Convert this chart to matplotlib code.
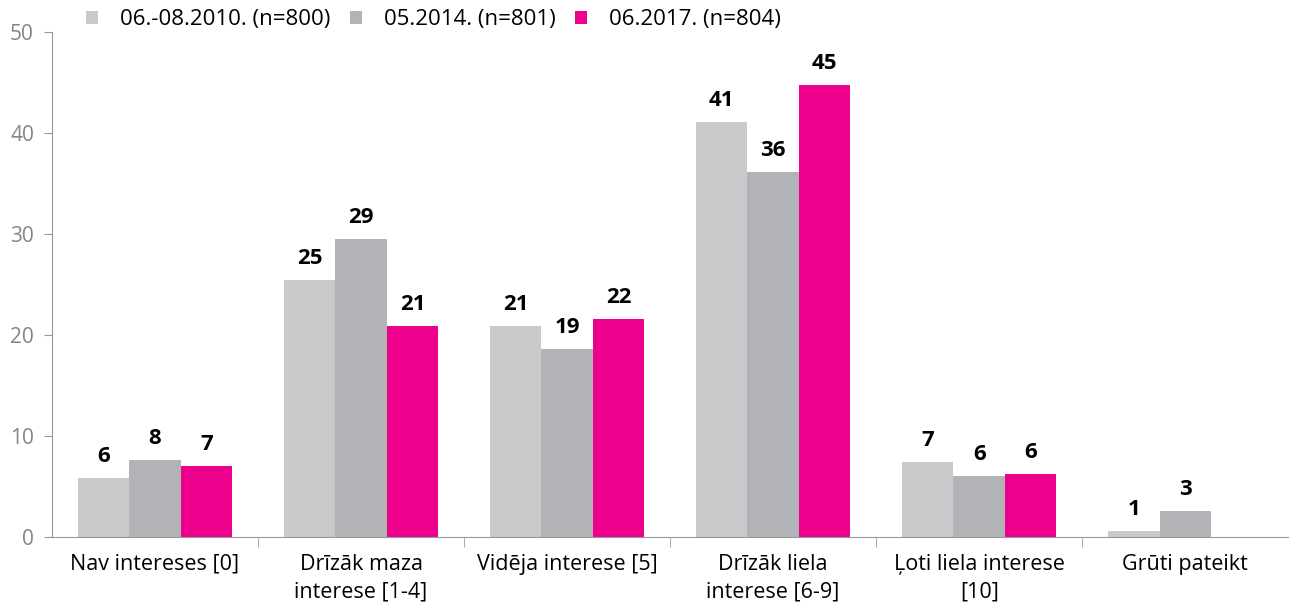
import matplotlib.pyplot as plt
import numpy as np

plt.rcParams['font.family'] = ['Open Sans', 'DejaVu Sans']

categories = ['Nav intereses [0]', 'Drīzāk maza\ninterese [1-4]', 'Vidēja interese [5]',
              'Drīzāk liela\ninterese [6-9]', 'Ļoti liela interese\n[10]', 'Grūti pateikt']
series_names = ['06.-08.2010. (n=800)', '05.2014. (n=801)', '06.2017. (n=804)']
v2010 = [5.8, 25.4, 20.9, 41.1, 7.4, 0.6]
v2014 = [7.6, 29.5, 18.6, 36.1, 6.0, 2.6]
v2017 = [7.0, 20.9, 21.6, 44.7, 6.2, None]
labels2010 = ['6', '25', '21', '41', '7', '1']
labels2014 = ['8', '29', '19', '36', '6', '3']
labels2017 = ['7', '21', '22', '45', '6', '']
colors = ['#C8C9CB', '#B1B3B6', '#EC008C']

fig = plt.figure(figsize=(13, 6.1), dpi=100)
ax = fig.add_axes([0.04, 0.1197, 0.951, 0.828])

x = np.arange(len(categories))
w = 0.25
all_vals = [v2010, v2014, v2017]
all_labels = [labels2010, labels2014, labels2017]
for i, (vals, labs) in enumerate(zip(all_vals, all_labels)):
    xs = [xx + (i - 1) * w for xx, v in zip(x, vals) if v is not None]
    ys = [v for v in vals if v is not None]
    ls = [l for l, v in zip(labs, vals) if v is not None]
    ax.bar(xs, ys, width=w, color=colors[i], label=series_names[i])
    for xx, yy, l in zip(xs, ys, ls):
        ax.annotate(l, xy=(xx, yy), xytext=(0, 8), textcoords='offset points',
                    ha='center', va='bottom', fontsize=16, fontweight='bold')

ax.set_xlim(-0.5, len(categories) - 0.5)
ax.set_ylim(0, 50)
ax.set_yticks([0, 10, 20, 30, 40, 50])
ax.set_xticks(x)
ax.set_xticklabels(categories, fontsize=15.5, linespacing=1.4)
ax.set_xticks(np.arange(0.5, len(categories) - 0.5), minor=True)
ax.tick_params(axis='x', which='major', length=0, pad=12)
ax.tick_params(axis='x', which='minor', length=7, color='#999999', direction='out')
ax.tick_params(axis='y', length=6, color='#999999', labelcolor='#858585', labelsize=15, pad=7)
for s in ['top', 'right']:
    ax.spines[s].set_visible(False)
ax.spines['left'].set_color('#999999')
ax.spines['bottom'].set_color('#999999')

fig.legend(loc='upper left', bbox_to_anchor=(0.066, 0.985), ncol=3, frameon=False,
           fontsize=16, handlelength=0.55, handleheight=0.55, handletextpad=1.0,
           columnspacing=0.85, borderpad=0, borderaxespad=0)

fig.savefig('out.png', dpi=100)
